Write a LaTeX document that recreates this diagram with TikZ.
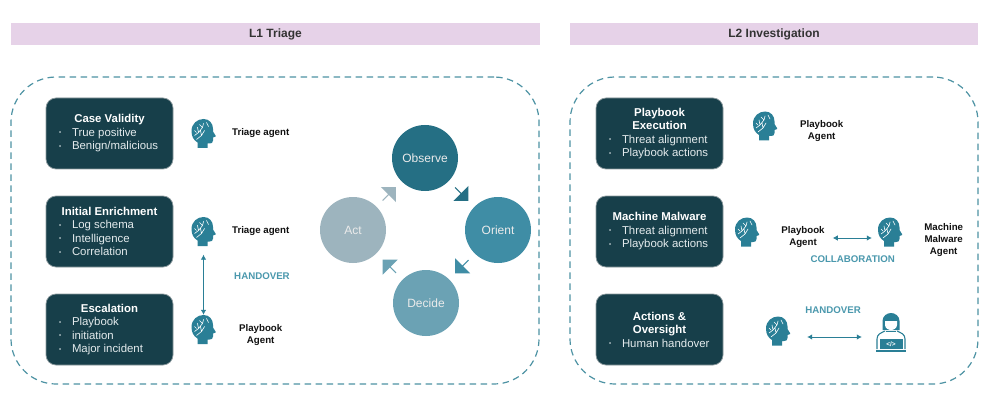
\documentclass[tikz,border=0pt]{standalone}
\usepackage{fontspec}
\setmainfont{Liberation Sans}
\usetikzlibrary{shapes.arrows,calc,arrows.meta}
\definecolor{boxfill}{HTML}{173F4A}
\definecolor{boxedge}{HTML}{8C9A9E}
\definecolor{hdr}{HTML}{E6D2E8}
\definecolor{dash}{HTML}{4E93A4}
\definecolor{icon}{HTML}{2A7F96}
\definecolor{lab}{HTML}{4A98AD}
\definecolor{cobs}{HTML}{256F84}
\definecolor{cori}{HTML}{3F8DA5}
\definecolor{cdec}{HTML}{6BA2B4}
\definecolor{cact}{HTML}{9DB4BE}
\definecolor{ink}{HTML}{111111}
\definecolor{bodytxt}{HTML}{E4EBED}
\newcommand{\bl}[1]{\makebox[127pt][l]{\hspace{13pt}\makebox[13pt][l]{\raisebox{1.5pt}{\fontsize{6}{6}\selectfont •}}#1}}
\newcommand{\bt}[1]{{\bfseries\color{white}#1}}
\tikzset{
  x=1pt,y=-1pt,
  header/.style={fill=hdr,minimum width=#1,minimum height=22,inner sep=0,text=black!80,font=\fontsize{12}{14}\selectfont\bfseries},
  zone/.style={draw=dash,line width=1.2pt,dash pattern=on 6.5pt off 4.5pt,rounded corners=45pt,minimum width=#1,minimum height=307,inner sep=0},
  stepbox/.style={draw=boxedge,line width=.7pt,fill=boxfill,rounded corners=10pt,minimum width=127,minimum height=71,inner sep=0,align=center,text=bodytxt,font=\fontsize{11.4}{13.5}\selectfont},
  agent/.style={align=center,inner sep=0,text=ink,font=\fontsize{9.7}{11.7}\selectfont\bfseries},
  tag/.style={inner sep=0,text=lab,font=\fontsize{9.7}{11.7}\selectfont\bfseries},
  cyc/.style={circle,minimum size=66,inner sep=0,text=white!92!black,font=\fontsize{12}{14}\selectfont},
  cycarrow/.style={single arrow,draw=none,minimum width=21,minimum height=18.7,single arrow head extend=3.75,single arrow head indent=0,single arrow tip angle=90,inner sep=0},
  iconbox/.style={minimum width=26,minimum height=30,inner sep=0},
  link/.style={draw=icon,line width=.8pt,{Latex[length=5pt,width=5.5pt]}-{Latex[length=5pt,width=5.5pt]}},
  pics/brainhead/.style={code={
    \fill[icon] (-6,14.5) -- (-6,9) .. controls (-10,6.5) and (-12,3) .. (-12,-2.5)
      .. controls (-12,-10) and (-6,-14.5) .. (0,-14.5)
      .. controls (6,-14.5) and (9.5,-10) .. (9.5,-4.5) -- (9.5,-2) -- (12,2)
      .. controls (12.5,3) .. (9.5,4) -- (9.5,7) .. controls (9.5,9.5) and (8,10) .. (6,10)
      -- (4,10) -- (4,14.5) -- cycle;
    \draw[white,line width=.6pt,line cap=round]
      (-9,2) -- (-5,-1) -- (-1,-6) -- (0,-10)
      (-5,-1) -- (-6,-6) (-1,-6) -- (-4,-9)
      (-7,6) -- (-2,2) -- (1,-3) (-2,2) -- (-3,-3)
      (3,-11) -- (5,-7) (-9,-3) -- (-7,-1);
  }},
  pics/coder/.style={code={
    \draw[icon,line width=1.1pt,line join=round] (-14,16) -- (-14,6) .. controls (-14,1) and (-10,0) .. (-6,-2)
      (14,16) -- (14,6) .. controls (14,1) and (10,0) .. (6,-2);
    \fill[icon] (-8.5,-3) -- (-8.5,-12) .. controls (-8.5,-17) and (-4,-20) .. (0,-20)
      .. controls (4,-20) and (8.5,-17) .. (8.5,-12) -- (8.5,-3) -- cycle;
    \fill[white] (-6,-12) .. controls (-2,-12) and (2,-12) .. (6,-12) -- (6,-8)
      .. controls (6,-4.5) and (2,-3) .. (0,-3) .. controls (-2,-3) and (-6,-4.5) .. (-6,-8) -- cycle;
    \draw[icon,line width=1pt] (-5,-1.5) -- (5,-1.5);
    \fill[icon] (-11.5,6) rectangle (11.5,16);
    \fill[icon] (-15,17) rectangle (15,19);
  }},
}
\begin{document}
\begin{tikzpicture}
\useasboundingbox (0,0) rectangle (1000,406);
\fill[white] (0,0) rectangle (1000,406);

\node[header=529] (hl) at (275.5,34) {L1 Triage};
\node[header=408] (hr) at (774,34) {L2 Investigation};
\node[zone=528] (zl) at (275,230.5) {};
\node[zone=408] (zr) at (774,230.5) {};

% left boxes
\node[stepbox] (b1) at (109.5,133.5) {\bt{Case Validity}\\\bl{True positive}\\\bl{Benign/malicious}};
\node[stepbox] (b2) at (109.5,231.5) {\bt{Initial Enrichment}\\\bl{Log schema}\\\bl{Intelligence}\\\bl{Correlation}};
\node[stepbox] (b3) at (109.5,329.5) {\bt{Escalation}\\\bl{Playbook}\\\bl{initiation}\\\bl{Major incident}};

% left agents
\node[iconbox] (h1) at (203.5,133.5) {};
\node[iconbox] (h2) at (203.5,231.5) {};
\node[iconbox] (h3) at (203.5,329.5) {};
\pic at (h1) {brainhead};
\pic at (h2) {brainhead};
\pic at (h3) {brainhead};
\node[agent] (a1) at (260.7,133) {Triage agent};
\node[agent] (a2) at (260.7,231) {Triage agent};
\node[agent] (a3) at (260.7,335) {Playbook\\Agent};
\node[tag] (t1) at (262,275.7) {HANDOVER};
\draw[link,shorten <=8pt,shorten >=-0.5pt] (h2.south) -- (h3.north);

% cycle
\node[cyc,fill=cobs] (obs) at (425,158) {Observe};
\node[cyc,fill=cori] (ori) at (498,230) {Orient};
\node[cyc,fill=cdec] (dec) at (426,303) {Decide};
\node[cyc,fill=cact] (act) at (353,230) {Act};
\node[cycarrow,fill=cobs,rotate=-45] (c1) at ($(obs)!.5!(ori)$) {};
\node[cycarrow,fill=cori,rotate=-135] (c2) at ($(ori)!.5!(dec)$) {};
\node[cycarrow,fill=cdec,rotate=135] (c3) at ($(dec)!.5!(act)$) {};
\node[cycarrow,fill=cact,rotate=45] (c4) at ($(act)!.5!(obs)$) {};

% right boxes
\node[stepbox] (r1) at (659.5,133.5) {\bt{Playbook}\\\bt{Execution}\\\bl{Threat alignment}\\\bl{Playbook actions}};
\node[stepbox] (r2) at (659.5,231.5) {\bt{Machine Malware}\\\bl{Threat alignment}\\\bl{Playbook actions}};
\node[stepbox] (r3) at (659.5,329.5) {\bt{Actions \&}\\\bt{Oversight}\\\bl{Human handover}};

% right agents
\node[iconbox] (g1) at (765,126) {};
\node[iconbox] (g2) at (747,232) {};
\node[iconbox] (g3) at (890,232) {};
\node[iconbox] (g4) at (778,331) {};
\pic at (g1) {brainhead};
\pic at (g2) {brainhead};
\pic at (g3) {brainhead};
\pic at (g4) {brainhead};
\node[minimum width=30,minimum height=39,inner sep=0] (p1) at (891,333) {};
\pic at (p1) {coder};
\node[inner sep=0,text=white,font=\fontsize{6.5}{7}\selectfont\bfseries] (code) at (891,344.5) {</>};
\node[agent] (l1) at (821.7,131) {Playbook\\Agent};
\node[agent] (l2) at (803,237) {Playbook\\Agent};
\node[agent] (l3) at (943.7,240) {Machine\\Malware\\Agent};
\node[tag] (t2) at (852.7,258.7) {COLLABORATION};
\node[tag] (t3) at (833,309.7) {HANDOVER};
\coordinate (k1) at (g3.west |- 0,238);
\draw[link,shorten <=8pt,shorten >=5pt] (l2.east |- k1) -- (k1);
\coordinate (k2) at (g4.east |- 0,337);
\coordinate (k3) at (p1.west |- 0,337);
\draw[link,shorten <=16pt,shorten >=14pt] (k2) -- (k3);
\end{tikzpicture}
\end{document}
